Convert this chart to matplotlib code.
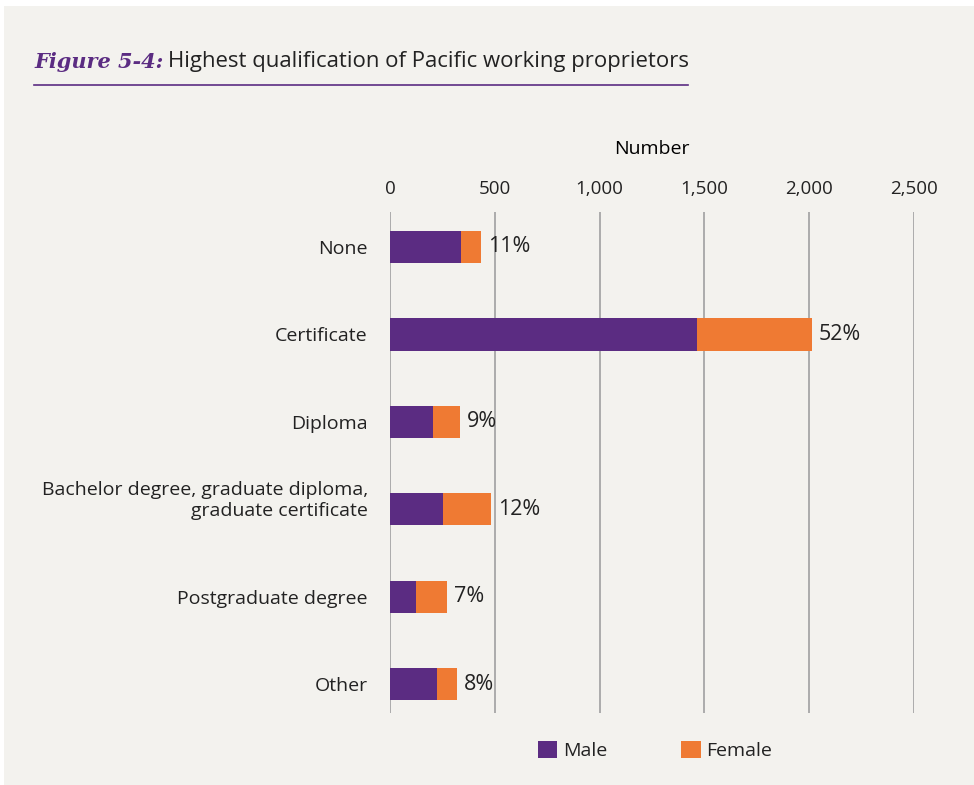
import matplotlib.pyplot as plt
import matplotlib.transforms as mtransforms
from matplotlib.patches import Rectangle
from matplotlib.lines import Line2D

# --- data ---
categories = ["None", "Certificate", "Diploma",
              "Bachelor degree, graduate diploma,\ngraduate certificate",
              "Postgraduate degree", "Other"]
male = [340, 1465, 205, 253, 124, 224]
female = [95, 548, 129, 227, 148, 96]
pct_labels = ["11%", "52%", "9%", "12%", "7%", "8%"]
x_ticks = [0, 500, 1000, 1500, 2000, 2500]
x_tick_labels = ["0", "500", "1,000", "1,500", "2,000", "2,500"]

# --- style ---
bg = "#f3f2ee"
purple = "#5b2c82"
orange = "#ef7a33"
txt = "#222222"
grid_col = "#a6a6a6"
plt.rcParams['font.family'] = ['Open Sans', 'DejaVu Sans']

fig = plt.figure(figsize=(9.74, 7.85), dpi=100)
fig.patch.set_facecolor("white")
# beige panel with a thin white strip on top/left
fig.patches.append(Rectangle((4 / 974, -0.01), 1.01, 1.01 - 6 / 785, transform=fig.transFigure,
                             facecolor=bg, edgecolor="none", zorder=-10))

ax = fig.add_axes([390 / 974, 1 - 713 / 785, 524 / 974, 501 / 785])
ax.set_facecolor(bg)
ax.patch.set_alpha(0)

y = list(range(len(categories)))
ax.barh(y, male, height=0.37, color=purple, label="Male", zorder=3)
ax.barh(y, female, left=male, height=0.37, color=orange, label="Female", zorder=3)

for i in y:
    ax.annotate(pct_labels[i], (male[i] + female[i], i), xytext=(5, 0),
                textcoords="offset points", va="center", ha="left",
                fontsize=15.5, color=txt)

ax.set_xlim(0, 2500)
ax.set_ylim(5.33, -0.4)
ax.set_xticks(x_ticks)
ax.set_xticklabels(x_tick_labels)
ax.set_yticks(y)
ax.set_yticklabels(categories)
ax.xaxis.tick_top()
ax.xaxis.set_label_position("top")
ax.set_xlabel("Number", fontsize=14, color="black", labelpad=19)
ax.tick_params(axis="x", length=0, pad=10, labelsize=13.5, colors=txt)
ax.tick_params(axis="y", length=0, pad=16, labelsize=14, colors=txt)
for lbl in ax.get_yticklabels():
    lbl.set_multialignment("right")
# two-line label sits a little high in the original
two = ax.get_yticklabels()[3]
two.set_transform(two.get_transform() + mtransforms.ScaledTranslation(0, 12 / 100, fig.dpi_scale_trans))

ax.grid(axis="x", color=grid_col, linewidth=1.3, zorder=0)
for s in ax.spines.values():
    s.set_visible(False)

# legend
ax.legend(loc="upper center", bbox_to_anchor=(0.506, -0.02), ncol=2, frameon=False,
          fontsize=14, handlelength=1.0, handleheight=1.0, handletextpad=0.3,
          columnspacing=3.8, labelcolor=txt)

# title
t1 = fig.text(34 / 974, 1 - 62 / 785, "Figure 5-4:", family="DejaVu Serif",
              style="italic", weight="bold", fontsize=15, color=purple, va="center")
fig.canvas.draw()
bb = t1.get_window_extent()
fig.text(bb.x1 / 974 + 5 / 974, 1 - 62 / 785, "Highest qualification of Pacific working proprietors",
         fontsize=15.9, color=txt, va="center")
fig.lines.append(Line2D([34 / 974, 688 / 974], [1 - 85 / 785, 1 - 85 / 785],
                        transform=fig.transFigure, color=purple, linewidth=1.2))

fig.savefig("out.png", dpi=100, facecolor=fig.get_facecolor())
